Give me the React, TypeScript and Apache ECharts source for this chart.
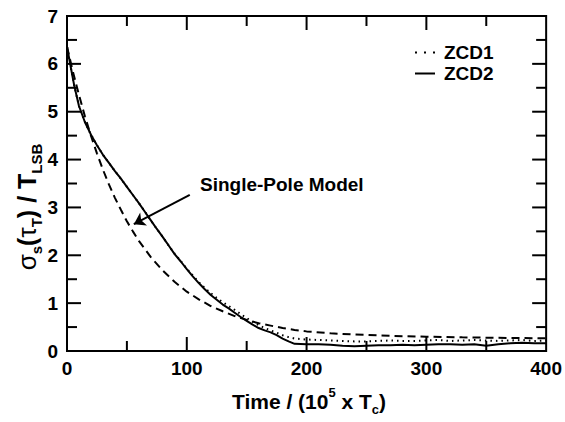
import React, { useEffect, useRef } from "react";
import * as echarts from "echarts";

const FF = "'Liberation Sans', Arial, Helvetica, sans-serif";

// ZCD2 (solid)
const zcd2T = [0, 3, 6, 10, 15, 20, 25, 30, 35, 40, 45, 50, 55, 60, 65, 70, 75, 80, 85, 90, 95, 100, 105, 110, 115, 120, 125, 130, 135, 140, 145, 150, 155, 160, 165, 170, 175, 180, 185, 190, 200, 210, 220, 230, 240, 250, 260, 270, 280, 290, 300, 310, 320, 330, 340, 350, 360, 370, 380, 390, 400];
const zcd2Y = [6.36, 5.95, 5.55, 5.12, 4.78, 4.52, 4.3, 4.1, 3.93, 3.76, 3.6, 3.43, 3.26, 3.09, 2.91, 2.73, 2.55, 2.38, 2.2, 2.02, 1.87, 1.71, 1.56, 1.42, 1.29, 1.17, 1.07, 0.97, 0.89, 0.8, 0.71, 0.63, 0.55, 0.48, 0.43, 0.39, 0.33, 0.26, 0.2, 0.15, 0.14, 0.14, 0.13, 0.11, 0.1, 0.11, 0.12, 0.12, 0.13, 0.12, 0.13, 0.14, 0.14, 0.13, 0.14, 0.11, 0.14, 0.16, 0.17, 0.16, 0.16];

// ZCD1 (dotted)
const zcd1T = [0, 3, 6, 10, 15, 20, 25, 30, 35, 40, 45, 50, 55, 60, 65, 70, 75, 80, 85, 90, 95, 100, 105, 110, 115, 120, 125, 130, 135, 140, 145, 150, 155, 160, 165, 170, 175, 180, 185, 190, 200, 210, 220, 230, 240, 250, 260, 270, 280, 290, 300, 310, 320, 330, 340, 350, 360, 370, 380, 390, 400];
const zcd1Y = [6.36, 5.95, 5.55, 5.12, 4.78, 4.52, 4.3, 4.1, 3.93, 3.76, 3.6, 3.43, 3.26, 3.09, 2.91, 2.73, 2.55, 2.38, 2.2, 2.03, 1.88, 1.72, 1.58, 1.44, 1.32, 1.21, 1.11, 1.02, 0.94, 0.86, 0.77, 0.69, 0.61, 0.54, 0.48, 0.43, 0.38, 0.33, 0.29, 0.26, 0.24, 0.23, 0.22, 0.21, 0.2, 0.2, 0.21, 0.22, 0.21, 0.21, 0.22, 0.23, 0.21, 0.22, 0.23, 0.22, 0.21, 0.22, 0.23, 0.21, 0.22];

// Single-pole model (dashed)
const modelT = [0, 5, 10, 15, 20, 25, 30, 35, 40, 45, 50, 55, 60, 70, 80, 90, 100, 110, 120, 130, 140, 150, 160, 170, 180, 190, 200, 220, 240, 260, 280, 300, 330, 360, 400];
const modelY = [6.36, 5.83, 5.35, 4.9, 4.5, 4.13, 3.79, 3.48, 3.2, 2.95, 2.71, 2.5, 2.3, 1.96, 1.68, 1.44, 1.24, 1.08, 0.94, 0.83, 0.73, 0.65, 0.58, 0.53, 0.48, 0.44, 0.41, 0.37, 0.345, 0.325, 0.31, 0.3, 0.285, 0.275, 0.265];

// axis ranges and tick values
const xRange = [0, 400];
const yRange = [0, 7];
const xMajorTicks = [100, 200, 300];
const xMinorTicks = [50, 150, 250, 350];
const yMajorTicks = [1, 2, 3, 4, 5, 6];
const yMinorTicks = [0.5, 1.5, 2.5, 3.5, 4.5, 5.5, 6.5];

// annotation arrow (data coords)
const arrowFrom = [102.5, 3.26];
const arrowTo = [55.8, 2.65];

const pairs = (t: number[], y: number[]) => t.map((v, i) => [v, y[i]]);

const W = 565, H = 422;
const MAJ = 14, MIN = 10;

// tick rows: [side (0 bottom, 1 top, 2 left, 3 right), value, length in px]
function tickRows() {
  const rows: number[][] = [];
  for (const side of [0, 1]) {
    xMajorTicks.forEach((v) => rows.push([side, v, MAJ]));
    xMinorTicks.forEach((v) => rows.push([side, v, MIN]));
  }
  for (const side of [2, 3]) {
    yMajorTicks.forEach((v) => rows.push([side, v, MAJ]));
    yMinorTicks.forEach((v) => rows.push([side, v, MIN]));
  }
  return rows;
}

const labelStyle = { color: "#000", fontSize: 19, fontWeight: "bold", fontFamily: FF };

export default function App() {
  const ref = useRef<HTMLDivElement>(null);
  useEffect(() => {
    if (!ref.current) return;
    const chart = echarts.init(ref.current, undefined, { renderer: "svg" });
    chart.setOption({
      animation: false,
      backgroundColor: "#fff",
      grid: { left: 67, right: 18, top: 16, bottom: 71, show: true, borderColor: "#000", borderWidth: 2, backgroundColor: "transparent" },
      xAxis: {
        type: "value", min: xRange[0], max: xRange[1], interval: 100,
        axisLine: { show: true, lineStyle: { color: "#000", width: 2 } },
        axisTick: { show: false }, splitLine: { show: false },
        axisLabel: { ...labelStyle, margin: 8 },
      },
      yAxis: {
        type: "value", min: yRange[0], max: yRange[1], interval: 1,
        axisLine: { show: true, lineStyle: { color: "#000", width: 2 } },
        axisTick: { show: false }, splitLine: { show: false },
        axisLabel: { ...labelStyle, margin: 9 },
      },
      legend: {
        orient: "vertical",
        left: 410,
        top: 38,
        itemWidth: 20,
        itemHeight: 2,
        itemGap: 2,
        data: [
          { name: "ZCD1", icon: "path://M0,0h2v2h-2z M9,0h2v2h-2z M18,0h2v2h-2z" },
          { name: "ZCD2", icon: "path://M0,0h20v2h-20z" },
        ],
        textStyle: { fontSize: 19, lineHeight: 19, fontWeight: "bold", color: "#000", fontFamily: FF, padding: [0, 0, 0, 4] },
      },
      series: [
        {
          type: "custom",
          name: "ticks",
          silent: true,
          clip: false,
          data: tickRows(),
          encode: { x: 1, y: 1 },
          renderItem: (_params: any, api: any) => {
            const side = api.value(0);
            const v = api.value(1);
            const len = api.value(2);
            let p: number[];
            let q: number[];
            if (side === 0) {
              p = api.coord([v, yRange[0]]);
              q = [p[0], p[1] - len];
            } else if (side === 1) {
              p = api.coord([v, yRange[1]]);
              q = [p[0], p[1] + len];
            } else if (side === 2) {
              p = api.coord([xRange[0], v]);
              q = [p[0] + len, p[1]];
            } else {
              p = api.coord([xRange[1], v]);
              q = [p[0] - len, p[1]];
            }
            return {
              type: "polyline",
              shape: { points: [p, q] },
              style: { stroke: "#000", lineWidth: 2, fill: "none" },
            };
          },
        },
        {
          type: "line",
          name: "Single-Pole Model",
          data: pairs(modelT, modelY),
          symbol: "none",
          showSymbol: false,
          lineStyle: { color: "#000", width: 2, type: [8, 5] },
          markLine: {
            silent: true,
            symbol: ["none", "arrow"],
            symbolSize: 11,
            label: { show: false },
            lineStyle: { color: "#000", width: 2, type: "solid" },
            data: [[{ coord: arrowFrom }, { coord: arrowTo }]],
          },
        },
        {
          type: "line",
          name: "ZCD1",
          data: pairs(zcd1T, zcd1Y),
          symbol: "none",
          showSymbol: false,
          lineStyle: { color: "#000", width: 2, type: [1.5, 4] },
          itemStyle: { color: "#000" },
        },
        {
          type: "line",
          name: "ZCD2",
          data: pairs(zcd2T, zcd2Y),
          symbol: "none",
          showSymbol: false,
          lineStyle: { color: "#000", width: 2, type: "solid" },
          itemStyle: { color: "#000" },
        },
      ],
      graphic: [
        {
          type: "text",
          x: 200,
          y: 184,
          style: {
            text: "Single-Pole Model",
            fill: "#000",
            font: `bold 19px ${FF}`,
            verticalAlign: "middle",
          },
        },
        {
          type: "text",
          x: 309,
          y: 401,
          style: {
            text: "{b|Time / (10}{sup|5}{b| x T}{sub|c}{b|)}",
            align: "center",
            verticalAlign: "middle",
            rich: {
              b: { fontSize: 21, fontWeight: "bold", fontFamily: FF, fill: "#000", lineHeight: 30 },
              sup: { fontSize: 13, fontWeight: "bold", fontFamily: FF, fill: "#000", lineHeight: 13, verticalAlign: "top" },
              sub: { fontSize: 13, fontWeight: "bold", fontFamily: FF, fill: "#000", lineHeight: 13, verticalAlign: "bottom" },
            },
          },
        },
        {
          type: "text",
          x: 27,
          y: 207,
          rotation: Math.PI / 2,
          style: {
            text: "{g|σ}{sub|s}{b|(}{g|τ}{sub|T}{b|) / T}{sub|LSB}",
            align: "center",
            verticalAlign: "middle",
            rich: {
              b: { fontSize: 25, fontWeight: "bold", fontFamily: FF, fill: "#000", lineHeight: 33 },
              g: { fontSize: 26, fontWeight: "normal", fontFamily: FF, fill: "#000", lineHeight: 33 },
              sub: { fontSize: 15, fontWeight: "bold", fontFamily: FF, fill: "#000", lineHeight: 15, verticalAlign: "bottom" },
            },
          },
        },
      ],
    });
    return () => chart.dispose();
  }, []);
  return <div ref={ref} style={{ position: "fixed", left: 0, top: 0, width: W, height: H }} />;
}
